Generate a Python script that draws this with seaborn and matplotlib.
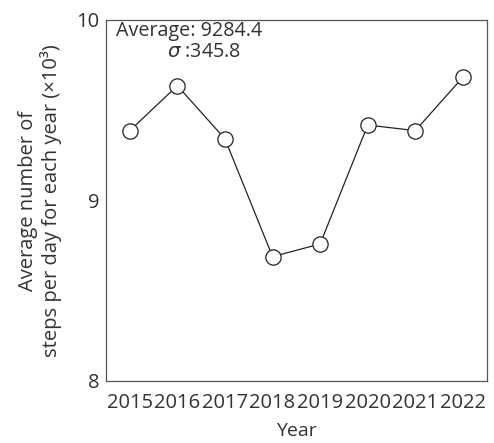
import matplotlib
matplotlib.use("Agg")
import matplotlib.pyplot as plt
import seaborn as sns
import pandas as pd

years = ["2015", "2016", "2017", "2018", "2019", "2020", "2021", "2022"]
steps_k = [9.387, 9.636, 9.341, 8.689, 8.759, 9.418, 9.387, 9.683]
y_ticks = [8, 9, 10]
avg_text = "Average: 9284.4"
sigma_text = "$\\sigma$ :345.8"

sns.set_theme(style="white")
plt.rcParams["font.family"] = ["Open Sans", "DejaVu Sans"]
plt.rcParams["mathtext.fontset"] = "dejavusans"

df = pd.DataFrame({"Year": years, "Steps": steps_k})

fig = plt.figure(figsize=(4.94, 4.43), dpi=100)
ax = fig.add_axes([0.2146, 0.1400, 0.9852 - 0.2146, 0.9549 - 0.1400])

sns.lineplot(data=df, x="Year", y="Steps", ax=ax, color="#222222", linewidth=0.9,
             marker="o", markersize=11, markerfacecolor="white",
             markeredgecolor="#222222", markeredgewidth=0.9, sort=False)

ax.set_xlim(-0.5, len(years) - 0.5)
ax.set_ylim(8, 10)
ax.set_yticks(y_ticks)
ax.set_yticklabels([str(t) for t in y_ticks])
ax.set_xticks(range(len(years)))
ax.set_xticklabels(years)

txt = "#333333"
ax.tick_params(axis="y", direction="in", length=9.5, width=0.9, color="#555555",
               labelsize=14.5, pad=5, labelcolor=txt)
ax.tick_params(axis="x", length=0, labelsize=14.5, pad=9, labelcolor=txt)

for s in ax.spines.values():
    s.set_visible(True)
    s.set_color("#555555")
    s.set_linewidth(0.9)

ax.set_xlabel("Year", fontsize=14, color=txt, labelpad=6)
ax.set_ylabel("Average number of\nsteps per day for each year (\u00d710\u00b3)",
              fontsize=14.5, color=txt, labelpad=10, linespacing=1.1)

ax.text(0.027, 0.998, avg_text, transform=ax.transAxes, ha="left", va="top",
        fontsize=14.2, color=txt)
ax.text(0.16, 0.938, sigma_text, transform=ax.transAxes, ha="left", va="top",
        fontsize=14.2, color=txt)

fig.savefig("out.png", dpi=100)
